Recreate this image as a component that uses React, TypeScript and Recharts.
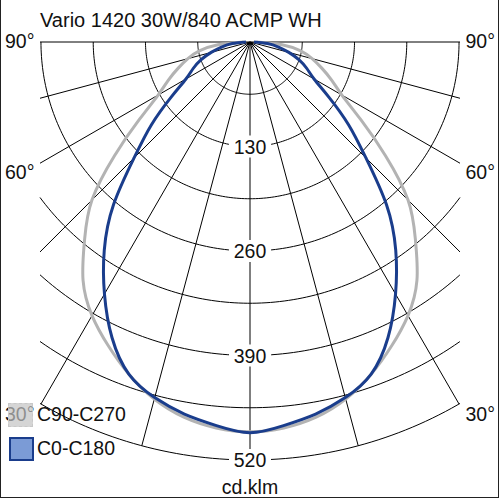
import { ScatterChart, Scatter, XAxis, YAxis, Curve } from "recharts";

const TITLE = "Vario 1420 30W/840 ACMP WH";
const UNIT = "cd.klm";

// gamma angles (0 = straight down, 90 = horizontal)
const GAMMA = [0, 5, 10, 15, 20, 25, 30, 35, 40, 45, 50, 55, 60, 65, 70, 75, 80, 85, 90];
// intensities in cd/klm
const C90_C270 = [485, 482, 474, 460, 440, 417, 393, 362, 320, 278, 220, 168, 132, 112, 95, 80, 64, 40, 8];
const C0_C180 = [486, 479, 470, 458, 440, 406, 362, 316, 264, 204, 160, 120, 92, 78, 65, 50, 36, 22, 5];

const RINGS = [65, 130, 195, 260, 325, 390, 455, 520];
const RING_LABELS = [130, 260, 390, 520];
const SPOKES = [-90, -75, -60, -45, -30, -15, 0, 15, 30, 45, 60, 75, 90];
const ANGLE_LABELS = [
  { text: "90°", y: 41 },
  { text: "60°", y: 172 },
  { text: "30°", y: 414 },
];

const R_MAX = 520;
const X_MAX = 261.2; // half width of the plot box, in cd/klm

const FONT = "'Liberation Sans', Arial, sans-serif";
const GRAY = "#b3b3b3";
const BLUE = "#1a3d8c";

const rad = (d: number) => (d * Math.PI) / 180;
const toXY = (deg: number, r: number) => ({ x: r * Math.sin(rad(deg)), y: -r * Math.cos(rad(deg)) });

// full symmetric curve from left horizontal through nadir to right horizontal
const curve = (vals: number[]) => [
  ...GAMMA.map((g, i) => toXY(-g, vals[i])).reverse(),
  ...GAMMA.slice(1).map((g, i) => toXY(g, vals[i + 1])),
];

const ringPoints = (r: number) => {
  const lim = r <= X_MAX ? 90 : (Math.asin(X_MAX / r) * 180) / Math.PI;
  const pts = [];
  for (let a = -lim; a < lim; a += 1) pts.push(toXY(a, r));
  pts.push(toXY(lim, r));
  return pts;
};

const spokePoints = (deg: number) => {
  const s = Math.abs(Math.sin(rad(deg)));
  const len = s < 1e-6 ? R_MAX : Math.min(R_MAX, X_MAX / s);
  return [{ x: 0, y: 0 }, toXY(deg, len)];
};

const ringLabelData = RING_LABELS.map((v) => ({ x: 0, y: -v, label: String(v) }));

const noDot = () => <g />;
const smoothLine = (color: string) => (props: any) => (
  <Curve {...props} type="natural" fill="none" stroke={color} strokeWidth={3} />
);

const RingLabel = (p: any) => (
  <g>
    <rect x={p.cx - 21} y={p.cy - 11} width={42} height={22} fill="#fff" />
    <text
      x={p.cx}
      y={p.cy}
      textAnchor="middle"
      dominantBaseline="central"
      fontFamily={FONT}
      fontSize={19.5}
      fill="#111"
    >
      {p.payload.label}
    </text>
  </g>
);

const txt: React.CSSProperties = {
  position: "absolute",
  fontFamily: FONT,
  fontSize: 19.5,
  color: "#111",
  lineHeight: "22px",
  whiteSpace: "nowrap",
};

export default function App() {
  return (
    <div style={{ position: "absolute", left: 0, top: 0, width: 500, height: 500, background: "#fff" }}>
      <ScatterChart width={500} height={500} margin={{ top: 42, right: 40, bottom: 40, left: 40 }}>
        <XAxis type="number" dataKey="x" domain={[-X_MAX, X_MAX]} hide />
        <YAxis type="number" dataKey="y" domain={[-R_MAX, 0]} hide />
        {RINGS.map((r) => (
          <Scatter
            key={"ring" + r}
            data={ringPoints(r)}
            line={{ stroke: "#000", strokeWidth: 1 }}
            shape={noDot}
            legendType="none"
            isAnimationActive={false}
          />
        ))}
        {SPOKES.map((d) => (
          <Scatter
            key={"spoke" + d}
            data={spokePoints(d)}
            line={{ stroke: "#000", strokeWidth: 1 }}
            shape={noDot}
            legendType="none"
            isAnimationActive={false}
          />
        ))}
        <Scatter
          name="C90-C270"
          data={curve(C90_C270)}
          fill={GRAY}
          line={smoothLine(GRAY)}
          shape={noDot}
          isAnimationActive={false}
        />
        <Scatter
          name="C0-C180"
          data={curve(C0_C180)}
          fill={BLUE}
          line={smoothLine(BLUE)}
          shape={noDot}
          isAnimationActive={false}
        />
        <Scatter data={ringLabelData} shape={RingLabel} legendType="none" isAnimationActive={false} />
      </ScatterChart>

      <div style={{ ...txt, left: 40, top: 9, fontSize: 20 }}>{TITLE}</div>
      {ANGLE_LABELS.map((a) => (
        <div key={"l" + a.text} style={{ ...txt, left: 5, top: a.y - 11 }}>{a.text}</div>
      ))}
      {ANGLE_LABELS.map((a) => (
        <div key={"r" + a.text} style={{ ...txt, right: 5, top: a.y - 11 }}>{a.text}</div>
      ))}
      <div style={{ ...txt, left: 0, width: 500, textAlign: "center", top: 476 }}>{UNIT}</div>

      {/* legend */}
      <div
        style={{
          position: "absolute",
          left: 8,
          top: 403,
          width: 23,
          height: 22,
          background: "rgba(195,195,195,0.7)",
          border: "1px dashed #c8c8c8",
        }}
      />
      <div style={{ ...txt, left: 37, top: 403 }}>C90-C270</div>
      <div
        style={{
          position: "absolute",
          left: 9,
          top: 437,
          width: 21,
          height: 20,
          background: "#7b9bd6",
          border: `2px solid ${BLUE}`,
        }}
      />
      <div style={{ ...txt, left: 37, top: 437 }}>C0-C180</div>

      {/* frame */}
      <div
        style={{
          position: "absolute",
          left: 0,
          top: 0,
          width: 497,
          height: 497,
          borderLeft: "1px solid #222",
          borderRight: "1px solid #222",
          borderBottom: "1px solid #222",
          pointerEvents: "none",
        }}
      />
    </div>
  );
}
